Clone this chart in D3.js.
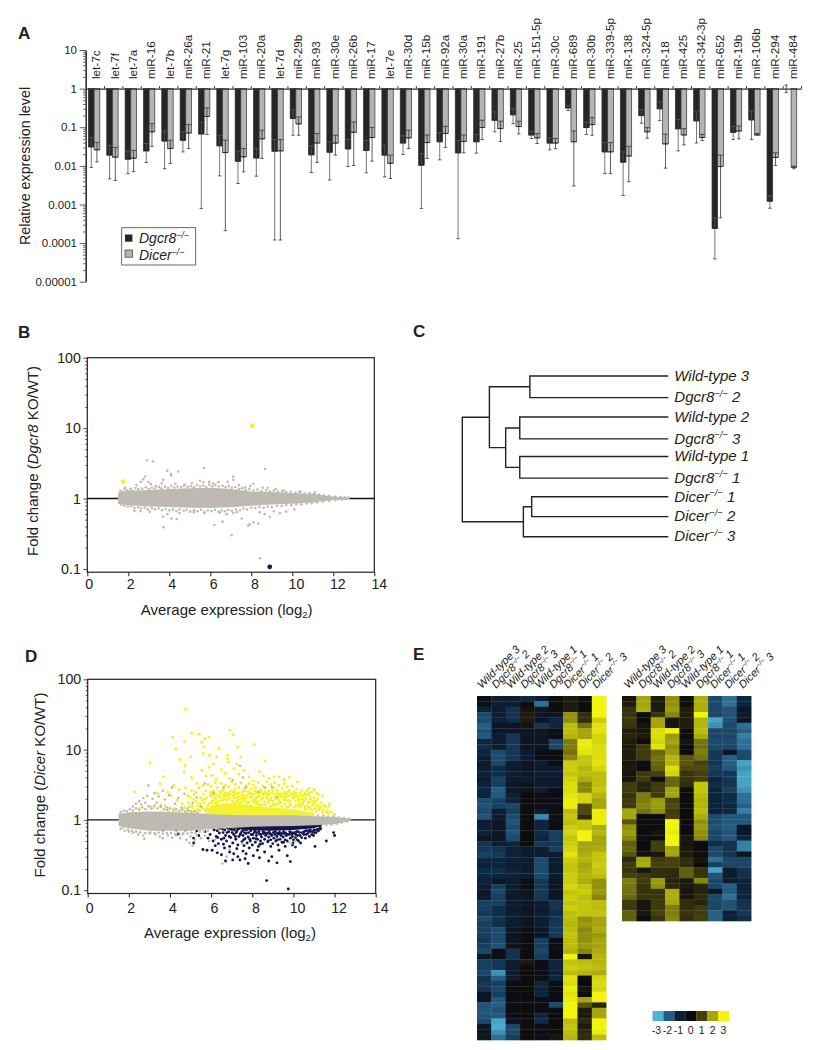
<!DOCTYPE html>
<html><head><meta charset="utf-8"><script src="https://cdn.jsdelivr.net/npm/d3@7/dist/d3.min.js"></script>
<style>html,body{margin:0;background:#fff}text{font-family:"Liberation Sans",Arial,sans-serif;fill:#222}</style></head><body><svg id="c" width="817" height="1050"><defs><filter id="soft" x="-2%" y="-2%" width="104%" height="104%"><feGaussianBlur stdDeviation="0.7 0.55"/></filter></defs></svg>
<script>
const mirnas=["let-7c","let-7f","let-7a","miR-16","let-7b","miR-26a","miR-21","let-7g","miR-103","miR-20a","let-7d","miR-29b","miR-93","miR-30e","miR-26b","miR-17","let-7e","miR-30d","miR-15b","miR-92a","miR-30a","miR-191","miR-27b","miR-25","miR-151-5p","miR-30c","miR-689","miR-30b","miR-339-5p","miR-138","miR-324-5p","miR-18","miR-425","miR-342-3p","miR-652","miR-19b","miR-106b","miR-294","miR-484"];
const dgcr8Value=[.031,.019,.0149,.0244,.044,.046,.067,.033,.0132,.016,.024,.168,.0193,.0226,.0275,.025,.019,.039,.0104,.042,.0217,.042,.152,.21,.063,.039,.316,.098,.023,.0125,.2,.30,.091,.146,.00024,.074,.155,.00122,1];
const dgcr8Upper=[.054,.034,.024,.038,.080,.076,.137,.062,.024,.028,.048,.286,.033,.042,.048,.046,.034,.060,.021,.073,.046,.065,.249,.304,.078,.053,.371,.137,.040,.023,.286,.452,.158,.249,.00045,.106,.265,.00168,1.24];
const dgcr8Lower=[.0091,.0046,.0063,.0122,.0084,.023,.00079,.0055,.0035,.0054,.00012,.062,.0067,.0043,.0096,.0066,.0052,.0196,.00079,.0143,.00013,.0213,.076,.124,.051,.026,.27,.065,.0063,.0017,.127,.149,.0244,.039,.000039,.048,.048,.0008,.79];
const dicerValue=[.026,.0168,.0158,.076,.028,.071,.19,.022,.0171,.050,.0244,.122,.039,.039,.074,.054,.0117,.053,.040,.069,.043,.098,.092,.104,.053,.039,.042,.117,.023,.018,.076,.037,.063,.054,.0096,.080,.063,.0165,.0092];
const dicerUpper=[.040,.030,.025,.124,.046,.117,.316,.046,.028,.084,.048,.185,.069,.062,.137,.098,.019,.084,.063,.106,.063,.152,.143,.143,.069,.051,.080,.178,.040,.032,.098,.066,.092,.065,.019,.108,.069,.0217,.0098];
const dicerLower=[.0127,.0042,.0071,.032,.0115,.028,.065,.00021,.0070,.0155,.00012,.062,.0122,.019,.0102,.0132,.0047,.028,.0155,.030,.0217,.048,.043,.067,.038,.028,.0030,.062,.0063,.0039,.052,.0087,.035,.045,.00045,.050,.063,.0102,.0084];
const barTicks=[10,1,.1,.01,.001,.0001,.00001];
const barTickLabels=["10","1","0.1","0.01","0.001","0.0001","0.00001"];
const foldTicks=[100,10,1,.1];
const foldTickLabels=["100","10","1","0.1"];
const exprTicks=[0,2,4,6,8,10,12,14];

const bandX=[1.5,2,3,4,5,6,7,8,9,10,11,12,12.8];
const bandBUpper=[1.22,1.3,1.32,1.36,1.4,1.42,1.36,1.26,1.24,1.2,1.16,1.07,1.02];
const bandBLower=[.84,.8,.77,.76,.74,.73,.75,.79,.82,.84,.88,.95,.985];
const bandDUpper=[1.22,1.28,1.32,1.3,1.26,1.2,1.17,1.16,1.16,1.16,1.13,1.1,1.03];
const bandDLower=[.82,.76,.7,.7,.7,.74,.77,.8,.81,.82,.84,.87,.97];
const grayB=[[2.91,3.47],[3.2,3.36],[5.69,2.7],[8.67,2.64],[3.9,2.47],[4.44,2.42],[4.07,2.24],[4.11,2.1],[7.12,2.05],[2.81,2.05],[2.73,1.88],[7.12,1.84],[2.98,1.71],[3.7,1.84],[3.63,1.65],[5.5,1.78],[6.15,1.65],[5.66,1.71],[2.4,1.55],[2.62,1.72],[3.1,1.6],[4.3,1.62],[4.75,1.58],[5.1,1.66],[5.95,1.72],[6.4,1.7],[6.85,1.72],[7.4,1.55],[7.95,1.5],[8.1,1.62],[8.55,1.42],[8.8,1.42],[9.2,1.36],[9.6,1.3],[10.4,1.26],[11.1,1.22],[1.85,1.42],[3.35,1.5],[7.7,1.44],
[3.72,.39],[7.04,.30],[8.42,.142],[6.2,.42],[6.6,.47],[3.7,.55],[4.11,.52],[4.36,.51],[7.85,.41],[7.93,.43],[8.1,.46],[8.34,.44],[8.9,.55],[9.7,.65],[6.47,.63],[7.53,.52],[7.12,.62],[2.3,.67],[2.6,.66],[3.05,.65],[3.9,.6],[4.5,.62],[5.2,.64],[5.7,.62],[6.8,.6],[7.3,.64],[8.4,.64],[8.65,.6],[9.1,.66],[9.4,.62],[10.1,.7],
[1.6,1.29],[1.7,1.24],[1.82,1.35],[1.95,1.31],[2.1,1.37],[2.2,1.3],[2.35,1.41],[2.5,1.35],[2.68,1.38],[2.85,1.44],[3,1.36],[3.15,1.42],[3.3,1.39],[3.5,1.45],[3.62,1.38],[3.8,1.47],[3.95,1.41],[4.1,1.5],[4.25,1.43],[4.4,1.48],[4.58,1.44],[4.72,1.52],[4.9,1.46],[5.05,1.5],[5.2,1.45],[5.35,1.55],[5.5,1.48],[5.65,1.53],[5.8,1.46],[5.95,1.58],[6.1,1.49],[6.25,1.55],[6.42,1.48],[6.6,1.52],[6.75,1.44],[6.9,1.5],[7.05,1.42],[7.22,1.46],[7.4,1.36],[7.55,1.4],[7.72,1.32],[7.9,1.36],[8.1,1.3],[8.3,1.34],[8.5,1.27],[8.72,1.31],[8.9,1.26],[9.1,1.3],[9.3,1.24],[9.5,1.28],[9.7,1.22],[9.92,1.26],[10.15,1.21],[10.35,1.23],[10.6,1.18],[10.85,1.2],[11.05,1.16],[11.3,1.14],[11.55,1.1],[11.8,1.09],[12.1,1.07],[12.35,1.05],[12.55,1.04],[12.72,1.03],
[1.65,.82],[1.8,.79],[1.98,.77],[2.15,.78],[2.3,.73],[2.48,.75],[2.62,.72],[2.8,.74],[2.95,.7],[3.15,.73],[3.3,.7],[3.48,.72],[3.65,.68],[3.82,.71],[4,.68],[4.18,.7],[4.35,.66],[4.5,.7],[4.7,.67],[4.85,.69],[5.02,.65],[5.2,.68],[5.38,.66],[5.55,.69],[5.72,.64],[5.88,.68],[6.05,.66],[6.22,.69],[6.4,.65],[6.55,.68],[6.72,.66],[6.88,.69],[7.05,.67],[7.25,.7],[7.45,.68],[7.62,.72],[7.8,.7],[8,.74],[8.2,.73],[8.4,.76],[8.6,.74],[8.8,.77],[9,.76],[9.25,.79],[9.48,.78],[9.7,.81],[9.95,.8],[10.2,.83],[10.45,.82],[10.7,.85],[10.95,.86],[11.2,.88],[11.5,.91],[11.8,.93],[12.1,.95],[12.4,.97]];
const yellowB=[[1.75,1.73],[8.05,10.8]];
const navyB=[[8.9,.107]];
const yellowBandX=[5.7,6,7,8,9,10,11];
const yellowBandTop=[1.3,1.6,1.72,1.6,1.5,1.42,1.26];
const yellowBandBottom=[1.16,1.16,1.14,1.14,1.14,1.14,1.12];
const navyBandX=[6.2,7,8,9,10,11,11.4];
const navyBandTop=[.84,.87,.87,.87,.87,.87,.87];
const navyBandBottom=[.82,.76,.71,.7,.72,.76,.83];
const yellowD=[[4.76,37.4],[5.06,17.2],[5.41,16.5],[4.12,15.1],[4.72,13.1],[5.9,15.1],[5.7,14.3],[5.54,12.8],[6.92,18.8],[7.08,16.2],[8.1,11.8],[7.29,10.9],[4.28,10.3],[5.66,10.9],[6.39,10.4],[4.49,7.3],[5.01,7.9],[3.03,6.5],[8.62,6.9],[6.79,8.3],[6.8,7.4],[7.44,7.9],[5.62,8.8],[5.92,8.3],[6.27,7.9],[6.84,6.7],[4.73,6],[6.11,6.3],[7.24,6.3],[3.68,4.1],[3.52,3.3],[2.3,2.5],
[4.7,4.8],[5.05,4],[5.3,3.3],[5.55,5.1],[5.75,4.2],[5.9,5.6],[6.05,4.3],[6.25,3.8],[6.5,5.2],[6.7,4.6],[6.9,3.9],[7.1,5.4],[7.35,4.5],[7.6,5.1],[7.85,4.1],[8.05,3.6],[8.35,4.9],[8.55,4.2],[8.8,3.9],[9.05,4.1],[9.3,4.1],[9.55,3.8],[9.8,4],[10.2,3.5],[10.75,2.8],[11,2.7],[10.55,2.4],[11.2,2.3],[11.4,2.2],[11.7,1.55],[11.85,1.3],[12,1.2],
[3.9,2.5],[4.05,2.2],[4.2,3.1],[4.35,1.9],[4.45,2.7],[4.6,1.7],[4.75,2.9],[4.85,2.2],[4.95,1.55],[5.05,2.6],[5.15,1.95],[5.25,2.5],[5.35,1.6],[5.4,2.9],[5.5,2.1],[5.6,3.1],[5.65,1.75],[5.75,2.6],[5.8,1.45],[5.85,3.2],[5.95,2.25],[6,3],[6.05,1.75],[6.1,2.6],[6.15,1.95],[6.2,3.4],[6.25,2.3],[6.3,2.9],[6.35,1.6],[6.4,2.5],[6.45,2.1],[6.5,3.3],[6.55,1.9],[6.6,2.7],[6.65,2.25],[6.7,3.1],[6.75,1.7],[6.8,2.4],[6.85,2.95],[6.9,2.05],[6.95,2.6],[7,3.5],[7.05,2.2],[7.1,1.8],[7.15,2.75],[7.2,3.2],[7.25,2.35],[7.3,1.95],[7.35,2.9],[7.4,2.15],[7.45,3.4],[7.5,2.5],[7.55,1.85],[7.6,2.8],[7.65,2.2],[7.7,3.05],[7.75,1.7],[7.8,2.55],[7.85,3.3],[7.9,2.1],[7.95,2.75],[8,1.9],[8.05,3.15],[8.1,2.35],[8.15,2.9],[8.2,1.75],[8.25,2.5],[8.3,3.4],[8.35,2.15],[8.4,2.7],[8.45,1.95],[8.5,3.05],[8.55,2.3],[8.6,1.8],[8.65,2.85],[8.7,3.5],[8.75,2.2],[8.8,2.6],[8.85,1.9],[8.9,3.2],[8.95,2.4],[9,1.85],[9.05,2.9],[9.1,3.4],[9.15,2.1],[9.2,2.65],[9.25,1.95],[9.3,3.1],[9.35,2.35],[9.4,1.75],[9.45,2.8],[9.5,2.15],[9.55,3.3],[9.6,2.5],[9.65,1.9],[9.7,2.95],[9.75,2.2],[9.8,2.65],[9.85,1.7],[9.9,2.35],[9.95,3],[10,2.05],[10.05,2.5],[10.1,1.85],[10.15,2.75],[10.2,2.2],[10.25,1.6],[10.3,2.4],[10.35,1.95],[10.4,2.65],[10.45,1.75],[10.5,2.25],[10.55,1.55],[10.6,2.05],[10.65,2.6],[10.7,1.8],[10.75,2.3],[10.8,1.5],[10.85,1.95],[10.9,2.5],[10.95,1.7],[11,2.1],[11.05,1.45],[11.1,1.85],[11.15,2.4],[11.25,1.6],[11.35,1.75],[11.45,1.4],[11.55,1.55],[11.65,1.35],[11.75,1.7],
[4.2,1.45],[4.3,1.3],[4.5,1.35],[4.7,1.5],[4.8,1.28],[5,1.34],[5.1,1.5],[5.2,1.3],[5.3,1.42],[5.45,1.36],[5.55,1.55],[5.7,1.38],[5.92,1.72],[6.02,2.15],[6.33,1.83],[6.47,2.35],[6.72,1.92],[6.98,1.66],[7.18,2.48],[7.42,1.8],[7.72,2.05],[7.98,2.32],[8.22,2.1],[8.48,1.66],[8.72,2.38],[9.02,1.62],[9.28,2.22],[9.52,1.94],[9.78,1.55],[9.98,2.32],[10.28,1.72],[10.48,2],[10.72,1.48],[10.98,1.85],[11.28,1.42],[3.4,2.4],[3.2,1.5],[2.5,1.45],[3.75,1.6],[3.95,1.35],[3.6,1.3],
[5.56,1.92],[5.63,2.33],[5.78,2.05],[5.83,1.62],[5.97,2.48],[6.08,1.58],[6.12,2.28],[6.18,1.72],[6.22,2.05],[6.28,1.62],[6.37,2.18],[6.42,1.85],[6.52,2.55],[6.58,1.68],[6.63,2.02],[6.68,2.42],[6.78,1.95],[6.82,2.2],[6.88,1.62],[6.93,2.32],[7.03,1.88],[7.08,2.52],[7.13,2.05],[7.22,1.72],[7.28,2.12],[7.33,2.42],[7.38,1.68],[7.48,2.02],[7.52,2.28],[7.58,1.6],[7.63,2.55],[7.68,1.84],[7.78,2.28],[7.83,1.78],[7.88,2.42],[7.93,1.62],[8.03,2.12],[8.08,1.78],[8.13,2.55],[8.18,2.02],[8.28,1.84],[8.33,2.28],[8.38,1.62],[8.43,2.48],[8.52,2.05],[8.58,2.42],[8.63,1.66],[8.68,2.12],[8.78,1.76],[8.82,2.38],[8.88,1.58],[8.92,2.05],[8.98,2.62],[9.08,1.7],[9.12,2.3],[9.18,1.62],[9.22,2.42],[9.32,1.86],[9.38,2.12],[9.42,1.56],[9.48,2.35],[9.58,1.68],[9.62,2.08],[9.68,1.52],[9.72,2.48],[9.82,1.9],[9.88,1.62],[9.93,2.12],[10.03,1.5],[10.08,2.2],[10.12,1.62],[10.22,1.92],[10.32,1.52],[10.38,2.22],[10.42,1.62],[10.52,1.88],[10.58,1.42],[10.62,2.3],[10.68,1.58],[10.78,1.78],[10.82,2.12],[10.88,1.4],[10.92,1.62],[11.02,1.72],[11.08,1.32],[11.12,1.58],[11.18,2],[11.22,1.38],[11.32,1.5],[11.42,1.28],[11.48,1.62],[11.58,1.3],[11.68,1.24],
[4.9,1.76],[4.98,2.1],[5.08,1.62],[5.18,2.3],[5.28,1.82],[5.38,1.38],[5.48,1.7],[5.58,1.46],[5.68,1.98],[6.06,1.88],[6.26,1.78],[6.74,2.18],[7.26,1.82],[7.56,2.1],[8.24,1.68],[8.76,1.96],[9.26,1.74],[9.76,1.86],[10.26,2.08],[10.76,2.45],[6.16,2.42],[6.62,2.22],[7.12,2.3],[7.62,2.0],[8.12,1.9],[8.62,2.52],[9.12,2],[9.62,2.3],[10.12,2.4]];
const navyD=[[8.7,.137],[9.75,.104],[9.85,.255],[9.2,.245],[8.8,.26],[7.8,.24],[6.7,.26],[7.05,.27],[7.4,.27],[7.65,.28],[8.35,.29],[8.95,.3],[9.7,.31],[8.05,.31],[7.3,.3],[6.3,.34],[6.5,.32],[6.05,.37],[5.8,.37],[5.6,.38],[7.7,.33],[7.1,.33],[6.9,.35],[8.6,.35],[8.25,.37],[7.55,.36],[9.3,.37],[10.1,.41],[11.05,.42],[9.95,.44],[11.6,.5],[10.35,.47],[9.6,.42],[8.9,.42],[7.85,.4],[7.25,.39],[6.65,.4],[6.2,.43],[5.15,.47],[5.15,.55],[4.4,.63],[4.3,.72],[3.65,.72],[3.0,.76],[4.75,.72],[5,.76],[5.3,.7],[5.4,.6],[5.5,.76],[5.7,.68],[5.85,.55],[5.95,.62],[6.1,.5],[6.15,.72],[6.25,.58],[6.35,.46],[6.4,.65],[6.5,.53],[6.55,.74],[6.6,.45],[6.7,.6],[6.75,.5],[6.85,.68],[6.9,.42],[6.95,.56],[7,.73],[7.05,.47],[7.1,.62],[7.2,.53],[7.25,.7],[7.3,.44],[7.35,.58],[7.45,.66],[7.5,.49],[7.55,.6],[7.6,.43],[7.65,.54],[7.7,.64],[7.75,.47],[7.8,.57],[7.9,.5],[7.95,.62],[8,.44],[8.05,.55],[8.1,.66],[8.15,.48],[8.2,.6],[8.25,.53],[8.3,.42],[8.35,.63],[8.4,.5],[8.45,.57],[8.5,.46],[8.55,.64],[8.6,.53],[8.65,.6],[8.75,.49],[8.8,.57],[8.85,.64],[8.9,.52],[8.95,.6],[9,.46],[9.05,.55],[9.1,.62],[9.15,.5],[9.2,.58],[9.25,.44],[9.3,.63],[9.35,.53],[9.4,.6],[9.45,.48],[9.5,.57],[9.55,.64],[9.6,.52],[9.65,.6],[9.7,.5],[9.8,.62],[9.85,.55],[9.9,.66],[9.95,.58],[10,.52],[10.05,.64],[10.1,.56],[10.15,.68],[10.2,.6],[10.25,.5],[10.3,.66],[10.4,.56],[10.5,.62],[10.6,.7],[10.7,.64],[10.8,.68],[10.9,.62],[11,.72],[11.1,.66],[11.2,.74],[11.3,.78],[11.95,.66],[12,.6],[7.15,.78],[7.4,.76],[7.6,.73],[6.45,.8],[6,.8],[5.55,.8],[5.25,.8],[6.8,.76],
[6.1,.76],[6.3,.7],[6.42,.76],[6.58,.66],[6.66,.72],[6.78,.66],[6.92,.74],[7.02,.66],[7.12,.72],[7.22,.66],[7.32,.74],[7.42,.62],[7.52,.7],[7.62,.66],[7.72,.72],[7.82,.66],[7.92,.7],[8.02,.62],[8.12,.7],[8.22,.66],[8.32,.68],[8.42,.62],[8.52,.68],[8.62,.66],[8.72,.64],[8.82,.68],[8.92,.62],[9.02,.66],[9.12,.68],[9.22,.64],[9.32,.67],[9.42,.64],[9.52,.68],[9.62,.65],[9.72,.62],[9.82,.68],[9.92,.63],[10.02,.66],[10.12,.62],[10.22,.68],[10.32,.6],[10.42,.66],[10.52,.68],[10.62,.62],[10.72,.7],[10.82,.72],[10.92,.68],[11.02,.66],[11.12,.72],[11.22,.7],[11.32,.74],[10.58,.55],[10.78,.58],[10.98,.6],[10.18,.52],[9.98,.47],[9.52,.48],[9.22,.52],[8.78,.5],[8.38,.45],[8.18,.54],[7.88,.53],[7.58,.52],[7.18,.58],[6.88,.58],[6.62,.55],[6.32,.56]];
const grayD=[[2.2,1.55],[2.35,1.7],[2.5,1.85],[2.6,1.65],[2.7,2.05],[2.8,1.75],[2.9,2.2],[2.95,3.1],[3.05,1.55],[3.15,2],[3.25,2.4],[3.35,1.75],[3.45,2.15],[3.55,1.6],[3.65,2.6],[3.75,1.95],[3.85,1.5],[3.95,2.25],[4.1,2.9],[4.25,1.7],[4.4,2.05],[4.55,1.5],[4.7,2.35],[4.85,1.45],[5.1,1.75],[5.3,2.1],[5.5,1.55],[5.7,3.3],[6.1,2.4],[6.6,2.9],[7.05,3.7],[7.4,5.9],[7.55,4],[8.3,2.5],[8.6,2.9],[8.95,2.9],[9.2,2.1],[7.7,2.9],
[1.6,.74],[1.8,.7],[2.0,.68],[2.2,.66],[2.45,.62],[2.7,.6],[2.75,.54],[3.0,.64],[3.3,.62],[3.5,.58],[3.65,.55],[3.9,.6],[4.1,.56],[4.3,.6],[4.5,.55],[4.6,.62],[4.8,.52],[4.95,.47],[5.1,.43],[5,.58],[5.2,.52],[5.3,.6],[5.5,.55],[5.7,.6],[5.9,.5],[6.2,.52],[6.55,.24],[6.75,.3],[6.9,.38],[7.5,.46],[9.9,.46],[10.1,.5],[9.8,.48],
[1.6,1.3],[1.75,1.36],[1.9,1.33],[2.05,1.42],[2.2,1.36],[2.35,1.46],[2.5,1.39],[2.65,1.5],[2.8,1.42],[2.95,1.56],[3.1,1.44],[3.25,1.6],[3.4,1.46],[3.55,1.52],[3.7,1.42],[3.85,1.38],[4,1.46],[4.15,1.36],[4.3,1.42],[4.45,1.34],[4.6,1.4],[4.75,1.32],[4.9,1.36],[5.05,1.3],[5.2,1.34],[5.35,1.27],[11.2,1.15],[11.45,1.15],[11.7,1.12],[11.95,1.12],[12.2,1.08],[12.45,1.06],[12.7,1.04],
[1.7,.78],[1.95,.73],[2.15,.7],[2.35,.68],[2.55,.67],[2.8,.65],[3.05,.66],[3.25,.65],[3.45,.66],[3.65,.64],[3.85,.65],[4.05,.65],[4.25,.63],[4.45,.65],[4.65,.65],[4.85,.64],[5.05,.66],[5.25,.65],[5.45,.68],[5.65,.68],[5.85,.7],[11.6,.85],[11.85,.86],[12.1,.88],[12.35,.92],[12.6,.95]];
const leaves=[["Wild-type 3",""],["Dgcr8"," 2"],["Wild-type 2",""],["Dgcr8"," 3"],["Wild-type 1",""],["Dgcr8"," 1"],["Dicer"," 1"],["Dicer"," 2"],["Dicer"," 3"]];
const leafSlots=[0,1.1,2.09,3.2,4.1,5.2,6.15,7.16,8.18];
const merges=[["a",0,1,.617],["b",2,3,.589],["c",4,5,.589],["d","b","c",.550],["e","a","d",.505],["f",6,7,.622],["g","f",8,.599],["root","e","g",.43]];
const treeEnd=1;
const heatSamples=["Wild-type 3","Dgcr8 2","Wild-type 2","Dgcr8 3","Wild-type 1","Dgcr8 1","Dicer 1","Dicer 2","Dicer 3"];
const heatLevels=[-3,-2,-1,0,1,2,3];
const heatColors=["#4fb4d4","#255e85","#0a2138","#0a0a0a","#453f0c","#a5a60e","#f2f40a"];
const heatL=[
[-.2,-.2,-1,-1.7,-1.7,-2,-1.8,-1.9,-1.1,-1.2,-1.1,-.8,-.8,-.8,-1,-.9,-1,-1.1,-1.1,-1.7,-1.8,-1.7,-1.8,-.9,-.8,-1,-.5,-1.3,-1.4,-1.5,-1.1,-1,-1.2,-1.1,-1,-.8,-.7,-.8,-1.5,-1.5,-1.4,-1.6,-1.5,-1.5,-1.5,-1.4,-1.5,-1.6,-.5,-1.5,-1.5,-1.6,-1.3,-1.4,-1.3,-.5,-.5,-1.8,-1.9,-1.8,-1.7,-.5,-.5,-.5],
[-.8,-.8,-.9,-.9,-1,-.6,-.6,-.8,-.8,-.8,-1.7,-1.7,-1.6,-1.2,-1.2,-1.5,-1.5,-2,-1.9,-1.5,-1.5,-.8,-.8,-.5,-.6,-.5,-.5,-.8,-1.3,-1.4,-1.1,-1.1,-1.2,-1.1,-.5,-1.5,-1.6,-1.5,-1.5,-1.2,-1.2,-1.3,-1.2,-1.7,-1.7,-1.7,-1.8,-.2,-.2,-1.4,-1.4,-2.6,-2,-1.5,-1.6,-1.5,-1.9,-2,-1.8,-1.9,-2.8,-2.9,-2.6,-2.2],
[-.8,-.8,-1.3,-1.3,-1.2,-.6,-.6,-1.4,-1.4,-1.4,-1.4,-1.4,-.8,-.8,-.9,-.8,-.6,-.6,-1,-1,-1.6,-1.5,-1.7,-1.8,-1.7,-1.8,-1.7,-1.1,-1,-1,-1,-.9,-1,-1,-.8,-.8,-.8,-.7,-.8,-.8,-.8,-.8,-.8,-.5,-.5,-.5,-.4,-1.3,-1.3,-.8,-.8,-.8,-.8,-.2,-.2,-.3,0,0,0,-.3,-.4,-1.6,-1.7,-1.5],
[-1.1,-.1,.2,.3,.3,.2,-.5,-.5,-.5,-.6,-.9,-.9,-.6,-.6,-.6,-.7,-.4,-.4,0,0,-.1,0,0,0,0,0,0,0,-.8,-.8,-.8,-.8,-.8,-.8,-.3,-.3,-.4,-.5,-.5,-.6,-.5,-.5,-.5,-.2,-.2,-.2,0,0,0,.3,0,0,0,0,-.1,0,0,0,.1,0,.1,0,0,0],
[-.9,-2.2,-.6,-.6,-.6,-1.4,-.5,-.5,-.6,-.5,-.3,-.3,-.8,-.8,-.8,-.8,-.8,-.9,-.2,-.2,-.3,-.8,-2.5,-1.1,-1.1,-1.2,-1.1,-1.4,-.8,-.8,-1.7,-1.7,-1.7,-1.7,-1.4,-1.4,-1.4,-1.4,-.8,-.8,-.8,-.8,-.8,-.6,-.6,-1.5,-1.5,-1.6,-1.5,-.2,-.2,-.3,-.2,-1.1,-1,-1.1,-.2,-.3,-.2,-1.1,-1.2,-.2,-.2,-.3],
[0,0,0,-.6,-1.1,-1.1,-.2,-.2,-1.6,-1.6,0,0,0,-.9,-.9,-.8,-.9,-.3,-.3,-.3,-.2,-.2,-.2,-.2,-.2,-1.5,-1.5,-1.4,-1.5,-.8,-.8,-.8,-.8,-.8,-.5,-.5,-.6,-.5,-1.3,-1.3,-1.2,-1.3,-1.4,-1.4,-1.4,-.2,-.2,-.3,-.2,-1.1,-1.1,-1,-1.1,-.2,-.2,-.3,-.2,-1.7,.1,.1,0,.1,.1,.2],
[.3,.3,.3,1.8,1.8,2.3,2.3,2.2,1.6,1.6,1.5,1.7,2.5,2.5,2.4,2.6,2.7,2.7,2.8,2.9,2.9,2.3,2.4,2.3,2.5,2.6,2.4,2.5,2.6,2.8,2.5,2.4,2.4,2.5,2.5,2.6,2.4,2.5,2.4,2.5,2.3,2.3,2.2,2.3,2.4,2.3,2.3,2.2,3,2.4,2.5,2.3,2.8,2.7,2.9,2.8,2.9,3,3,3,2.3,2.4,2.3,2.2],
[-.1,-.1,-.1,.7,.7,1.5,2,2,2.9,2.9,2.8,2.4,2.4,2.2,2.3,2.1,1.7,1.7,2.6,2.6,1.1,1.1,.6,2.4,2.4,3,3,2,2,2.1,2.2,2,2.1,2.2,2.1,2.4,2.5,2.3,2.4,2.4,2.4,1.8,1.9,1.7,1.8,1.8,1.9,1.7,.2,2.3,2.4,2.2,.1,.1,.2,.1,2,1.2,.3,.3,.6,.3,.6,.7],
[3,3,3,3,2.5,2.8,2.8,2.6,2.6,2.7,2.7,2.7,2.8,2.6,2.3,2.3,2.3,2.4,2.2,2,2,2.9,2.9,2.9,2.1,2.2,2,2,2.1,2.4,2.4,2.5,2.4,2.3,1.8,1.8,1.9,1.7,2.3,2.3,2.4,2,2,2.1,1.9,2,2,2.1,2.2,2.2,2.3,2.1,2.6,2.7,2.6,3,3,.5,2,2,3,3,2.9,2.3]];
const heatR=[
[.2,.4,.8,.8,.9,.8,.4,.5,.4,.3,.4,.4,.2,.3,.2,.2,.9,.9,.8,.9,.9,2,2,1.2,1.8,1.9,1.7,1.3,1.4,1.2,.6,.9,.8,1,1.6,1.5,1.5,1.4,.9,.9,1.3,1.3],
[2,2,2.1,0,0,.2,.2,.3,.1,.9,.9,.9,.1,.1,.9,.9,.5,.5,1.6,1.6,1.7,1.5,0,0,0,.1,0,.1,.1,.1,2,2.1,.2,.9,.9,.8,.8,.8,.2,.2,.2,.1],
[.3,.3,.3,.8,2,2,2.7,2.7,2.6,2.8,1.4,1.5,1.4,1.3,1,.1,.9,.9,.9,1.9,1.9,1.8,.1,.1,.1,.2,.1,1,1,.2,.9,1,.7,.7,1.9,1.8,.8,.8,.9,.9,1,.8],
[1.8,1.8,1.9,1.7,.2,.2,3,1.9,2,1.8,1.9,2.2,2.2,2.7,2.6,1.4,1.4,2,2,1,1.1,.9,1,3,3,2.9,3,3,2,2,1,1,.6,.6,.5,.6,2.1,2.1,2,1.6,1.6,1.7],
[.1,.1,.4,.4,.4,.4,.1,.1,.2,.1,.1,1.2,1.2,1.1,.8,.8,.7,.1,.1,.1,.1,.1,0,.1,.1,.1,.2,.2,.3,.3,.7,.7,1.3,1.3,.3,.3,.2,.2,.7,.7,.8,.7],
[2.1,2.1,2.1,3,2.2,2.2,2.3,2.1,1.5,1.5,1.6,1.5,1,1.1,1,1,2.4,2.4,2.3,2.2,2.2,2.3,2.1,1.8,1.9,1.8,1.7,.1,.1,.1,.2,.1,.8,.8,1.7,.5,.5,.6,.5,.9,.9,1],
[-1.6,-1.7,-1.6,-1.6,-2.8,-2.6,-1.6,-1.6,-1.7,-1.6,-1.4,-1.4,-1.3,-1.5,-1.4,-1.1,-1.2,-1.1,-1.1,-1,-1,-1,-1.7,-1.7,-1.8,-1.6,-1.6,-1.2,-1.6,-1.6,-2.2,-1.5,-2.8,-1.8,-1.6,-1.6,-.6,-1.6,-1.6,-1.6,-2,-2],
[-2.2,-2.2,-1.8,-1.8,-1.8,-1.7,-1.6,-1.6,-1.7,-1.6,-.6,-2,-2,-1.9,-1.4,-1.4,-1.3,-1.5,-1.2,-1.2,-1.1,-1.1,-1.9,-1.9,-2,-1.8,-1.9,-1.3,-1.3,-1.3,-1.6,-1.6,-.8,-.8,-.8,-2,-2,-2.2,-1.8,-1.8,-1,-1],
[-1.1,-1.1,-.6,-.7,-.6,-2.2,-2,-2.4,-2.2,-2.2,-1.7,-1.7,-2.8,-2.6,-2.8,-2.8,-2.8,-2.6,-2.2,-2.2,-2,-2.4,-1.9,-1.9,-.6,-.6,-1.1,-2.4,-2.4,-.4,-1.6,-1.6,-1.3,-1.3,-1,-1,-1.1,-1,-1.3,-1.3,-1.4,-1.2]];

const svg=d3.select("#c");
const txt=(x,y,s,size,o={})=>svg.append("text").attr("x",x).attr("y",y).attr("font-size",size).attr("text-anchor",o.anchor||"start").attr("font-weight",o.bold?"bold":null).attr("font-style",o.italic?"italic":null).attr("transform",o.rot!=null?`rotate(${o.rot},${x},${y})`:null).text(s);
[["A",18,39],["B",18,338],["C",413,337],["D",25,662],["E",413,660]].forEach(d=>txt(d[1],d[2],d[0],17,{bold:true}));

function logTicks(lo,hi){const t=[];for(let e=lo;e<hi;e++)for(let m=1;m<10;m++)t.push(+(m+"e"+e));t.push(+("1e"+hi));return t;}
const isMajor=v=>Math.abs(Math.log10(v)-Math.round(Math.log10(v)))<1e-6;

/* Panel A */
const ya=d3.scaleLog().domain([1e-5,10]).range([281.7,50]);
const xa=d3.scaleLinear().domain([0,39]).range([85.7,801]);
const gA=svg.append("g");
const barW=5.7;
mirnas.forEach((m,i)=>{
  const x0=xa(i)+2.7;
  const drawBar=(x,v,u,l,fill,wh,capC)=>{
    if(v<1){gA.append("rect").attr("x",x).attr("y",ya(1)).attr("width",barW).attr("height",ya(v)-ya(1)).attr("fill",fill).attr("stroke","#333").attr("stroke-width",.7);}
    const cx=x+barW/2;
    gA.append("line").attr("x1",cx).attr("x2",cx).attr("y1",ya(u)).attr("y2",ya(l)).attr("stroke",wh).attr("stroke-width",.8);
    gA.append("line").attr("x1",x+.3).attr("x2",x+barW-.3).attr("y1",ya(u)).attr("y2",ya(u)).attr("stroke",capC).attr("stroke-width",.8);
    gA.append("line").attr("x1",x+.3).attr("x2",x+barW-.3).attr("y1",ya(v)).attr("y2",ya(v)).attr("stroke","#222").attr("stroke-width",.8);
    gA.append("line").attr("x1",cx-1.7).attr("x2",cx+1.7).attr("y1",ya(l)).attr("y2",ya(l)).attr("stroke","#333").attr("stroke-width",.8);
  };
  if(i===38){const cx=xa(38)+3.6;gA.append("line").attr("x1",cx).attr("x2",cx).attr("y1",ya(dgcr8Upper[i])).attr("y2",ya(dgcr8Lower[i])).attr("stroke","#333").attr("stroke-width",.8);
    [dgcr8Upper[i],dgcr8Lower[i]].forEach(v=>gA.append("line").attr("x1",cx-1.7).attr("x2",cx+1.7).attr("y1",ya(v)).attr("y2",ya(v)).attr("stroke","#333").attr("stroke-width",.8));}
  else drawBar(x0,dgcr8Value[i],dgcr8Upper[i],dgcr8Lower[i],"#262626","#555","#5a5a5a");
  drawBar(x0+barW,dicerValue[i],dicerUpper[i],dicerLower[i],"#b4b4b4","#333","#333");
  txt(xa(i)+14.5,79,m,11.7,{rot:-90});
});
const axA=d3.axisLeft(ya).tickValues(logTicks(-5,1)).tickSize(0).tickFormat("");
const gAy=svg.append("g").attr("transform","translate(85.7,0)").call(axA);
gAy.select(".domain").attr("stroke","#333").attr("stroke-width",1.6);
gAy.selectAll(".tick line").attr("x2",d=>isMajor(d)?-6:-2.5).attr("stroke","#333").attr("stroke-width",.8);
barTicks.forEach((t,i)=>txt(77,ya(t)+4.2,barTickLabels[i],11.5,{anchor:"end"}));
const gAx=svg.append("g").attr("transform",`translate(0,${ya(1)})`).call(d3.axisTop(xa).tickValues(d3.range(0,40)).tickSize(2.5).tickSizeOuter(0).tickFormat(""));
gAx.select(".domain").attr("stroke","#333").attr("stroke-width",1.3);
gAx.selectAll(".tick line").attr("stroke","#333");
txt(30,166,"Relative expression level",14.3,{rot:-90,anchor:"middle"});
svg.append("rect").attr("x",121.7).attr("y",227.7).attr("width",74).attr("height",37.3).attr("fill","#fff").attr("stroke","#444").attr("stroke-width",.8);
svg.append("rect").attr("x",125).attr("y",234.5).attr("width",7.4).attr("height",7.2).attr("fill","#262626");
svg.append("rect").attr("x",125).attr("y",250).attr("width",7.4).attr("height",7.2).attr("fill","#b4b4b4").attr("stroke","#333").attr("stroke-width",.7);
const ko=(x,y,name,size,tail,o={})=>{const t=txt(x,y,"",size,{italic:true,...o});
  t.append("tspan").text(name);
  if(tail!==undefined){t.append("tspan").attr("font-size",size*.62).attr("dy",-size*.36).text("−/−");
   t.append("tspan").attr("dy",size*.36).text(tail);}return t;};
ko(139,243,"Dgcr8",14,"");ko(139,260,"Dicer",14,"");

/* Panels B and D */
function maPlot(top,yDecade,x0,x1,gene,labX,labY,xlabX,xlabY,tickY,band,layers){
  const x=d3.scaleLinear().domain([0,14]).range([x0,x1]);
  const bottom=top+(yDecade*3)+3.3;
  const y=d3.scaleLog().domain([.1*Math.pow(10,-3.3/yDecade),100]).range([bottom,top]);
  const g=svg.append("g");
  g.append("line").attr("x1",x0).attr("x2",x1).attr("y1",y(1)).attr("y2",y(1)).attr("stroke","#111").attr("stroke-width",1.4);
  layers.pre(g,x,y);
  const area=d3.area().x((d,i)=>x(bandX[i])).y0((d,i)=>y(band[1][i])).y1((d,i)=>y(band[0][i])).curve(d3.curveLinear);
  g.append("path").attr("d",area(bandX)).attr("fill","#bfbab1");
  g.selectAll(".gp").data(layers.gray).join("circle").attr("cx",d=>x(d[0])).attr("cy",d=>y(d[1])).attr("r",1.3).attr("fill","#bfbab1");
  g.append("rect").attr("x",x0).attr("y",top).attr("width",x1-x0).attr("height",bottom-top).attr("fill","none").attr("stroke","#222").attr("stroke-width",1.2);
  layers.post(g,x,y);
  const ay=svg.append("g").attr("transform",`translate(${x0},0)`).call(d3.axisLeft(y).tickValues(logTicks(-1,2)).tickSize(0).tickFormat(""));
  ay.select(".domain").remove();
  ay.selectAll(".tick line").attr("x2",d=>isMajor(d)?-4:-2).attr("stroke","#222").attr("stroke-width",.8);
  foldTicks.forEach((t,i)=>txt(x0-6.5,y(t)+5,foldTickLabels[i],14.2,{anchor:"end"}));
  const ax=svg.append("g").attr("transform",`translate(0,${bottom})`).call(d3.axisBottom(x).tickValues(exprTicks).tickSize(4).tickFormat(""));
  ax.select(".domain").remove();ax.selectAll(".tick line").attr("stroke","#222");
  exprTicks.forEach(t=>txt(x(t)+(t/14*3+2),tickY,t,14.2,{anchor:"middle"}));
  const xl=txt(xlabX,xlabY,"Average expression (log",15,{anchor:"middle"});
  xl.append("tspan").attr("font-size",9.5).attr("dy",3).text("2");xl.append("tspan").attr("dy",-3).text(")");
  const yl=txt(labX,labY,"Fold change (",15,{rot:-90,anchor:"middle"});
  yl.append("tspan").attr("font-style","italic").text(gene);yl.append("tspan").text(" KO/WT)");
}
const dots=(g,data,x,y,c,r)=>g.selectAll(null).data(data).join("circle").attr("cx",d=>x(d[0])).attr("cy",d=>y(d[1])).attr("r",r).attr("fill",c);
maPlot(357.7,70.4,87.3,374.3,"Dgcr8",38,461,226.7,615,589,[bandBUpper,bandBLower],{gray:grayB,pre:()=>{},post:(g,x,y)=>{dots(g,yellowB,x,y,"#f5f31c",2.4);dots(g,navyB,x,y,"#15154e",2.4);}});
maPlot(679.3,70.3,87.7,375.7,"Dicer",45,785,230,938,913,[bandDUpper,bandDLower],{gray:grayD,pre:(g,x,y)=>{
  g.append("path").attr("d",d3.area().x((d,i)=>x(yellowBandX[i])).y0((d,i)=>y(yellowBandBottom[i])).y1((d,i)=>y(yellowBandTop[i]))(yellowBandX)).attr("fill","#f3f233");
  g.append("path").attr("d",d3.area().x((d,i)=>x(navyBandX[i])).y0((d,i)=>y(navyBandBottom[i])).y1((d,i)=>y(navyBandTop[i]))(navyBandX)).attr("fill","#15154e");
  dots(g,yellowD,x,y,"#f5f31c",1.5);dots(g,navyD,x,y,"#15154e",1.45);
},post:()=>{}});

/* Panel C */
const xc=d3.scaleLinear().domain([.43,treeEnd]).range([462.3,668.3]);
const yc=d3.scaleLinear().domain([0,8.18]).range([376,536.7]);
const node=new Map();leaves.forEach((l,i)=>node.set(i,{h:treeEnd,s:leafSlots[i]}));
const gC=svg.append("g").attr("fill","none").attr("stroke","#222").attr("stroke-width",1.4);
merges.forEach(([id,a,b,h])=>{const A=node.get(a),B=node.get(b);
  gC.append("path").attr("d",d3.line()([[xc(A.h),yc(A.s)],[xc(h),yc(A.s)],[xc(h),yc(B.s)],[xc(B.h),yc(B.s)]]));
  node.set(id,{h,s:(A.s+B.s)/2});});
leaves.forEach((l,i)=>{const y=yc(leafSlots[i])+4.7;
  if(l[1])ko(674.3,y,l[0],15,l[1]);else txt(674.3,y,l[0],15,{italic:true});});

/* Panel E */
const color=d3.scaleLinear().domain(heatLevels).range(heatColors);
const [L0,Lw,R0]=[477,14.35,622];
function heat(x0,y0,y1,cols){
  const rows=cols[0].length,yy=d3.scaleBand().domain(d3.range(rows)).range([y0,y1]),xx=d3.scaleBand().domain(d3.range(9)).range([x0,x0+Lw*9]);
  const g=svg.append("g").attr("filter","url(#soft)");
  cols.forEach((c,ci)=>c.forEach((v,ri)=>g.append("rect").attr("x",xx(ci)).attr("y",yy(ri)).attr("width",xx.bandwidth()+.3).attr("height",yy.bandwidth()+.3).attr("fill",color(v))));
}
heat(L0,696,1040,heatL);heat(R0,696,921,heatR);
[[L0,-2.5],[R0,-1]].forEach(([x0,o])=>heatSamples.forEach((s,i)=>{const x=x0+Lw*(i+.5)+o,y=689;
  const m=s.match(/^(Dgcr8|Dicer) (\d)$/);
  if(m)ko(x,y,m[1],11,"  "+m[2],{rot:-45});else txt(x,y,s,11,{italic:true,rot:-45});}));
const xl=d3.scaleBand().domain(heatLevels).range([652.5,729]);
svg.selectAll(".lg").data(heatLevels).join("rect").attr("x",d=>xl(d)).attr("y",1011).attr("width",xl.bandwidth()+.2).attr("height",10).attr("fill",d=>color(d));
heatLevels.forEach(v=>txt(xl(v)+xl.bandwidth()/2-(v<0?1.5:0),1034,v,10.5,{anchor:"middle"}));
</script></body></html>
